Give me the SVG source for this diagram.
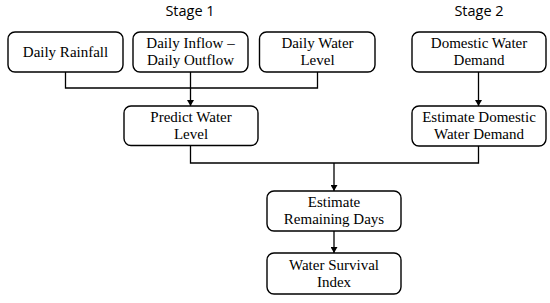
<svg xmlns="http://www.w3.org/2000/svg" width="550" height="303" viewBox="0 0 550 303">
<defs>
<marker id="arr" markerWidth="6" markerHeight="7" refX="6" refY="3.5" orient="auto" markerUnits="userSpaceOnUse">
<path d="M0,0 L6,3.5 L0,7 Z" fill="#000"/>
</marker>
<style>
.box{fill:#fff;stroke:#000;stroke-width:1.4}
.t{font-family:"Liberation Serif","Times New Roman",serif;font-size:15px;fill:#000;text-anchor:middle}
.h{font-family:"Open Sans","Liberation Sans",sans-serif;font-size:14.5px;fill:#000;text-anchor:middle}
.c{fill:none;stroke:#000;stroke-width:1.3}
</style>
</defs>
<rect width="550" height="303" fill="#fff"/>
<text class="h" x="190" y="16">Stage 1</text>
<text class="h" x="479" y="16">Stage 2</text>
<g id="connectors">
<polyline class="c" points="65.5,72 65.5,88 317.5,88 317.5,72"/>
<line class="c" x1="190.5" y1="72" x2="190.5" y2="106" marker-end="url(#arr)"/>
<line class="c" x1="478.5" y1="72" x2="478.5" y2="106" marker-end="url(#arr)"/>
<polyline class="c" points="190.5,145 190.5,163 478.5,163 478.5,146"/>
<line class="c" x1="334" y1="163" x2="334" y2="191" marker-end="url(#arr)"/>
<line class="c" x1="334" y1="231" x2="334" y2="253" marker-end="url(#arr)"/>
</g>
<g id="daily-rainfall">
<rect class="box" x="8" y="32" width="115" height="40" rx="7"/>
<text class="t" x="65.5" y="57">Daily Rainfall</text>
</g>
<g id="daily-inflow-outflow">
<rect class="box" x="133" y="32" width="115" height="40" rx="7"/>
<text class="t" x="190.5" y="48">Daily Inflow –</text>
<text class="t" x="190.5" y="65">Daily Outflow</text>
</g>
<g id="daily-water-level">
<rect class="box" x="259.5" y="32" width="115.5" height="40" rx="7"/>
<text class="t" x="317.5" y="48">Daily Water</text>
<text class="t" x="317.5" y="65">Level</text>
</g>
<g id="domestic-water-demand">
<rect class="box" x="412" y="32" width="134" height="40" rx="7"/>
<text class="t" x="479" y="48">Domestic Water</text>
<text class="t" x="479" y="65">Demand</text>
</g>
<g id="predict-water-level">
<rect class="box" x="124" y="106" width="134" height="39.5" rx="7"/>
<text class="t" x="191" y="122">Predict Water</text>
<text class="t" x="191" y="139">Level</text>
</g>
<g id="estimate-domestic-water-demand">
<rect class="box" x="412" y="106" width="134" height="40" rx="7"/>
<text class="t" x="479" y="122">Estimate Domestic</text>
<text class="t" x="479" y="139">Water Demand</text>
</g>
<g id="estimate-remaining-days">
<rect class="box" x="267" y="191" width="134" height="40" rx="7"/>
<text class="t" x="334" y="207">Estimate</text>
<text class="t" x="334" y="224">Remaining Days</text>
</g>
<g id="water-survival-index">
<rect class="box" x="267" y="253" width="134" height="41" rx="7"/>
<text class="t" x="334" y="270">Water Survival</text>
<text class="t" x="334" y="287">Index</text>
</g>
</svg>
